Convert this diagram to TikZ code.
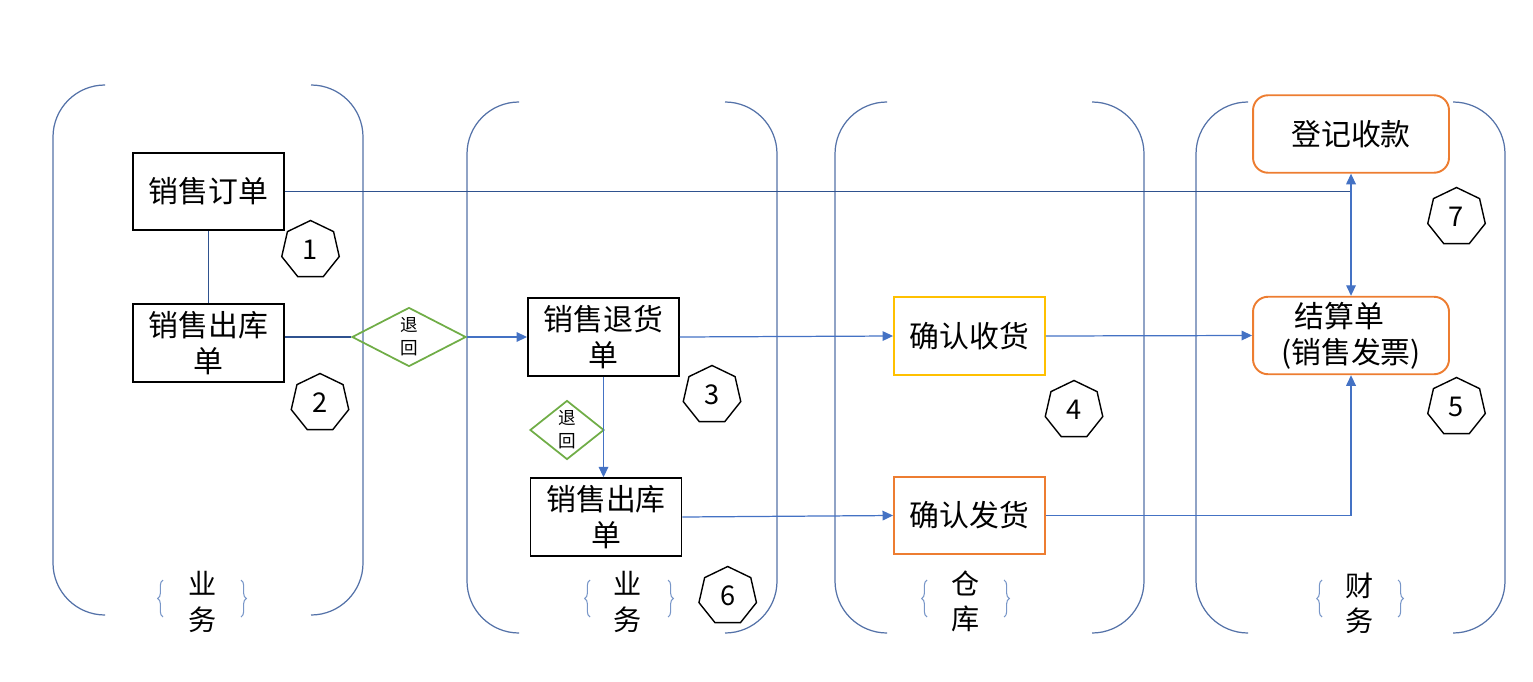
\documentclass[tikz,border=0pt]{standalone}
\usepackage{fontspec}
\newfontfamily\cjk{Noto Sans CJK SC}
\usetikzlibrary{arrows.meta,shapes.geometric,decorations.pathreplacing}
\definecolor{lanecol}{RGB}{84,114,168}
\definecolor{bracecol}{RGB}{120,150,200}
\definecolor{navycol}{RGB}{47,82,143}
\definecolor{linkcol}{RGB}{68,114,196}
\definecolor{greencol}{RGB}{112,173,71}
\definecolor{orangecol}{RGB}{237,125,49}
\definecolor{goldcol}{RGB}{255,192,0}

\begin{document}
\begin{tikzpicture}[x=0.02cm,y=-0.02cm,
  every text node part/.style={align=center},
  every node/.style={font=\cjk\fontsize{17}{20.5}\selectfont},
  doc/.style={draw=black,line width=1.1pt,minimum width=3.02cm,minimum height=1.55cm,inner sep=0pt},
  task/.style={doc,draw=#1},
  fin/.style={doc,draw=orangecol,rounded corners=0.3cm,minimum width=3.92cm},
  back/.style={diamond,draw=greencol,line width=1pt,inner sep=0pt,font=\cjk\fontsize{10}{13}\selectfont},
  tag/.style={regular polygon,regular polygon sides=7,draw=black,line width=0.8pt,minimum size=1.18cm,inner sep=0pt,font=\cjk\fontsize{15.5}{16}\selectfont},
  lane/.style={draw=lanecol,line width=0.7pt,rounded corners=1.04cm},
  curly/.style={draw=bracecol,line width=0.6pt,decorate,decoration={brace,amplitude=3pt}},
  flow/.style={draw=linkcol,line width=0.7pt,-{Triangle[length=6pt,width=5.5pt]}},
  plain/.style={draw=navycol,line width=0.7pt},
  lanename/.style={font=\cjk\fontsize{16}{20}\selectfont}]

\useasboundingbox(0,0)rectangle(1533,682);

% lanes
\draw[lane](105,85)--(53,85)--(53,615)--(105,615);
\draw[lane](311,85)--(363,85)--(363,615)--(311,615);
\draw[lane](519,102)--(467,102)--(467,633)--(519,633);
\draw[lane](725,102)--(777,102)--(777,633)--(725,633);
\draw[lane](887,102)--(835,102)--(835,633)--(887,633);
\draw[lane](1092,102)--(1144,102)--(1144,633)--(1092,633);
\draw[lane](1248,102)--(1196,102)--(1196,633)--(1248,633);
\draw[lane](1453,102)--(1505,102)--(1505,633)--(1453,633);

% lane names
\node[lanename](l1)at(203,602){业\\务};
\node[lanename](l2)at(628,602){业\\务};
\node[lanename](l3)at(966,601){仓\\库};
\node[lanename](l4)at(1360,603){财\\务};
\draw[curly](163,617)--(163,580);\draw[curly](241,580)--(241,617);
\draw[curly](590,617)--(590,580);\draw[curly](668,580)--(668,617);
\draw[curly](927,617)--(927,580);\draw[curly](1004,580)--(1004,617);
\draw[curly](1322,617)--(1322,580);\draw[curly](1398,580)--(1398,617);

% documents
\node[doc](order)at(208.5,191.5){销售订单};
\node[doc](out1)at(208.5,343){销售出库\\单};
\node[doc](ret)at(603.5,337){销售退货\\单};
\node[doc](out2)at(606,517){销售出库\\单};
\node[task=goldcol](recv)at(969.5,336){确认收货};
\node[task=orangecol](ship)at(969.5,515.5){确认发货};
\node[fin](settle)at(1351,335.5){结算单\kern0.8em\\(销售发票)};
\node[fin](pay)at(1351,134){登记收款};

\node[back,minimum width=2.28cm,minimum height=1.18cm](back1)at(409,337){退\\回};
\node[back,minimum width=1.48cm,minimum height=1.18cm](back2)at(567,430){退\\回};

% steps
\node[tag](t1)at(310.5,250){1};
\node[tag](t2)at(320,403){2};
\node[tag](t3)at(712,395){3};
\node[tag](t4)at(1074,410){4};
\node[tag](t5)at(1456.5,407){5};
\node[tag](t6)at(727.7,596){6};
\node[tag](t7)at(1456.5,217){7};

% links
\draw[plain](order)--(out1);
\coordinate(join)at(order.east -| pay.south);
\draw[plain](order.east)--(join);
\draw[flow,{Triangle[length=6pt,width=5.5pt]}-{Triangle[length=6pt,width=5.5pt]}](pay)--(settle);
\draw[plain](back1.west -| out1.east)--(back1.west);
\draw[flow](back1.east)--(ret.west);
\draw[flow](ret.south)--(ret.south |- out2.north);
\draw[flow](ret.east)--(recv.west);
\draw[flow](out2.east)--(ship.west);
\draw[flow](recv.east)--(settle.west);
\coordinate(bend)at(ship.east -| settle.south);
\draw[flow](ship.east)--(bend)--(settle.south);

\end{tikzpicture}
\end{document}
